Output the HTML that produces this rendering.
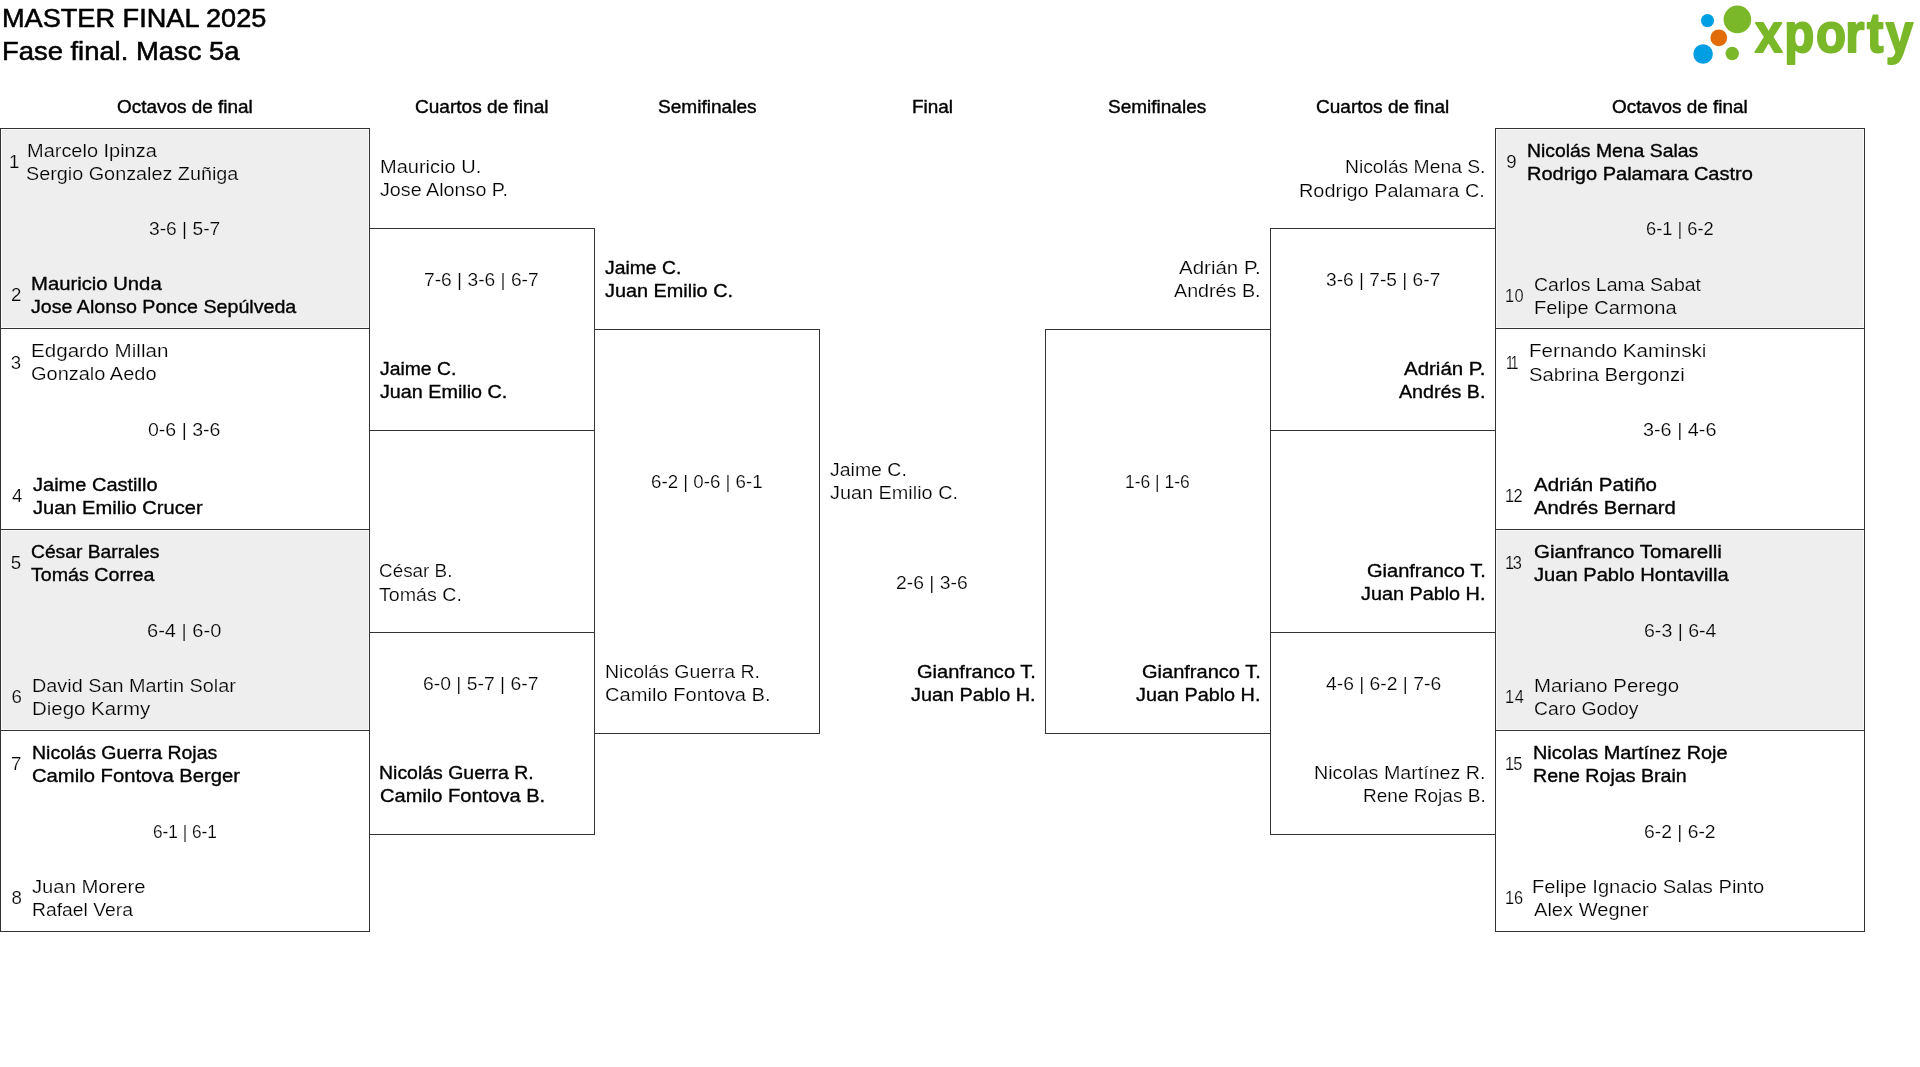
<!DOCTYPE html>
<html lang="es"><head><meta charset="utf-8"><title>MASTER FINAL 2025</title>
<style>
html,body{margin:0;padding:0;background:#fff}
body{width:1920px;height:1067px;position:relative;overflow:hidden;font-family:"Liberation Sans", sans-serif;color:#000}
#txt{position:absolute;left:0;top:0;width:1920px;height:1067px;will-change:transform}
.x{position:absolute;white-space:nowrap;transform-origin:0 0}
.b{position:absolute;border:1px solid #333;box-sizing:content-box}
.g{background:#eee;box-shadow:inset 0 0 0 1px #f9f9f9}
.t{font-size:26.67px;line-height:32px;-webkit-text-stroke:0.55px #000;}
.h{font-size:18.67px;line-height:23px;-webkit-text-stroke:0.4px #000;}
.r{font-size:18.67px;line-height:23px;-webkit-text-stroke:0.2px #fff;}
.m{font-size:18.67px;line-height:23px;-webkit-text-stroke:0.35px #000;}
.e{-webkit-text-stroke-color:#eee}
</style></head>
<body>

<div class="b g" style="left:0;top:128px;width:368px;height:199px"></div>
<div class="b" style="left:0;top:328px;width:368px;height:200px"></div>
<div class="b g" style="left:0;top:529px;width:368px;height:200px"></div>
<div class="b" style="left:0;top:730px;width:368px;height:200px"></div>
<div class="b" style="left:369px;top:228px;width:224px;height:201px"></div>
<div class="b" style="left:369px;top:632px;width:224px;height:201px"></div>
<div class="b" style="left:594px;top:329px;width:224px;height:403px"></div>
<div class="b" style="left:1045px;top:329px;width:224px;height:403px"></div>
<div class="b" style="left:1270px;top:228px;width:224px;height:201px"></div>
<div class="b" style="left:1270px;top:632px;width:224px;height:201px"></div>
<div class="b g" style="left:1495px;top:128px;width:368px;height:199px"></div>
<div class="b" style="left:1495px;top:328px;width:368px;height:200px"></div>
<div class="b g" style="left:1495px;top:529px;width:368px;height:200px"></div>
<div class="b" style="left:1495px;top:730px;width:368px;height:200px"></div>

<div id="txt">
<svg class="logo" style="position:absolute;left:1680px;top:0" width="240" height="80" viewBox="0 0 240 80">
<circle cx="27.5" cy="20.6" r="6.6" fill="#009fe3"/>
<circle cx="57.4" cy="19.4" r="13.8" fill="#7ab829"/>
<circle cx="38.8" cy="37.8" r="8.4" fill="#e36c0a"/>
<circle cx="23.1" cy="54" r="9.8" fill="#009fe3"/>
<circle cx="52.2" cy="53.5" r="6.7" fill="#7ab829"/>
<text transform="scale(0.8787,1)" x="85.4 118.54 154.8 188.09 212.77 234.24" y="52.1" font-family="Liberation Sans, sans-serif" font-weight="bold" font-size="56" fill="#7ab829" stroke="#7ab829" stroke-width="2" stroke-linejoin="round">xporty</text>
</svg>

<div class="x t" style="left:2.28px;top:1.65px;transform:scaleX(1.0178)">MASTER FINAL 2025</div>
<div class="x t" style="left:2.26px;top:34.65px;transform:scaleX(1.0271)">Fase final. Masc 5a</div>
<div class="x h" style="left:116.94px;top:95.20px;transform:scaleX(1.0147)">Octavos de final</div>
<div class="x h" style="left:415.23px;top:95.20px;transform:scaleX(1.0217)">Cuartos de final</div>
<div class="x h" style="left:657.87px;top:95.20px;transform:scaleX(1.0218)">Semifinales</div>
<div class="x h" style="left:912.39px;top:95.20px;transform:scaleX(1.0148)">Final</div>
<div class="x h" style="left:1107.57px;top:95.20px;transform:scaleX(1.0186)">Semifinales</div>
<div class="x h" style="left:1315.93px;top:95.20px;transform:scaleX(1.0194)">Cuartos de final</div>
<div class="x h" style="left:1611.64px;top:95.20px;transform:scaleX(1.0147)">Octavos de final</div>
<div class="x r e" style="left:8.94px;top:150.20px">1</div>
<div class="x r e" style="left:26.78px;top:138.80px;transform:scaleX(1.0699)">Marcelo Ipinza</div>
<div class="x r e" style="left:26.36px;top:162.00px;transform:scaleX(1.0611)">Sergio Gonzalez Zuñiga</div>
<div class="x r e" style="left:148.75px;top:217.00px;transform:scaleX(1.0302)">3-6 | 5-7</div>
<div class="x r e" style="left:10.96px;top:283.20px">2</div>
<div class="x m" style="left:31.12px;top:271.50px;transform:scaleX(1.0863)">Mauricio Unda</div>
<div class="x m" style="left:30.90px;top:294.50px;transform:scaleX(1.0525)">Jose Alonso Ponce Sepúlveda</div>
<div class="x r" style="left:10.77px;top:350.90px">3</div>
<div class="x r" style="left:30.72px;top:338.80px;transform:scaleX(1.1039)">Edgardo Millan</div>
<div class="x r" style="left:30.69px;top:362.00px;transform:scaleX(1.0706)">Gonzalo Aedo</div>
<div class="x r" style="left:148.38px;top:418.00px;transform:scaleX(1.0473)">0-6 | 3-6</div>
<div class="x r" style="left:12.11px;top:484.20px">4</div>
<div class="x m" style="left:32.89px;top:472.70px;transform:scaleX(1.0726)">Jaime Castillo</div>
<div class="x m" style="left:32.89px;top:496.00px;transform:scaleX(1.0760)">Juan Emilio Crucer</div>
<div class="x r e" style="left:10.81px;top:551.40px">5</div>
<div class="x m" style="left:31.44px;top:539.50px;transform:scaleX(1.0318)">César Barrales</div>
<div class="x m" style="left:31.29px;top:562.70px;transform:scaleX(1.0524)">Tomás Correa</div>
<div class="x r e" style="left:147.06px;top:618.80px;transform:scaleX(1.0758)">6-4 | 6-0</div>
<div class="x r e" style="left:11.46px;top:685.20px">6</div>
<div class="x r e" style="left:31.80px;top:673.70px;transform:scaleX(1.0628)">David San Martin Solar</div>
<div class="x r e" style="left:31.74px;top:697.00px;transform:scaleX(1.0963)">Diego Karmy</div>
<div class="x r" style="left:10.95px;top:752.40px">7</div>
<div class="x m" style="left:31.87px;top:741.00px;transform:scaleX(1.0447)">Nicolás Guerra Rojas</div>
<div class="x m" style="left:32.00px;top:764.00px;transform:scaleX(1.0843)">Camilo Fontova Berger</div>
<div class="x r" style="left:152.53px;top:820.20px;transform:scaleX(0.9238)">6-1 | 6-1</div>
<div class="x r" style="left:11.47px;top:886.40px">8</div>
<div class="x r" style="left:31.80px;top:875.20px;transform:scaleX(1.0847)">Juan Morere</div>
<div class="x r" style="left:31.84px;top:898.00px;transform:scaleX(1.0352)">Rafael Vera</div>
<div class="x r" style="left:380.48px;top:155.30px;transform:scaleX(1.0734)">Mauricio U.</div>
<div class="x r" style="left:379.82px;top:178.30px;transform:scaleX(1.0572)">Jose Alonso P.</div>
<div class="x r" style="left:424.43px;top:268.00px;transform:scaleX(1.0303)">7-6 | 3-6 | 6-7</div>
<div class="x m" style="left:380.20px;top:357.00px;transform:scaleX(1.0363)">Jaime C.</div>
<div class="x m" style="left:380.20px;top:380.30px;transform:scaleX(1.0582)">Juan Emilio C.</div>
<div class="x r" style="left:379.43px;top:559.30px;transform:scaleX(1.0120)">César B.</div>
<div class="x r" style="left:379.23px;top:582.70px;transform:scaleX(1.0527)">Tomás C.</div>
<div class="x r" style="left:423.11px;top:672.00px;transform:scaleX(1.0369)">6-0 | 5-7 | 6-7</div>
<div class="x m" style="left:379.48px;top:761.00px;transform:scaleX(1.0432)">Nicolás Guerra R.</div>
<div class="x m" style="left:379.71px;top:784.30px;transform:scaleX(1.0760)">Camilo Fontova B.</div>
<div class="x m" style="left:605.20px;top:256.00px;transform:scaleX(1.0363)">Jaime C.</div>
<div class="x m" style="left:605.20px;top:279.00px;transform:scaleX(1.0642)">Juan Emilio C.</div>
<div class="x r" style="left:651.14px;top:470.30px;transform:scaleX(1.0028)">6-2 | 0-6 | 6-1</div>
<div class="x r" style="left:604.52px;top:659.50px;transform:scaleX(1.0453)">Nicolás Guerra R.</div>
<div class="x r" style="left:605.06px;top:682.70px;transform:scaleX(1.0786)">Camilo Fontova B.</div>
<div class="x r" style="left:829.83px;top:458.00px;transform:scaleX(1.0439)">Jaime C.</div>
<div class="x r" style="left:829.82px;top:481.30px;transform:scaleX(1.0645)">Juan Emilio C.</div>
<div class="x r" style="left:896.15px;top:571.30px;transform:scaleX(1.0361)">2-6 | 3-6</div>
<div class="x m" style="left:917.04px;top:659.50px;transform:scaleX(1.0741)">Gianfranco T.</div>
<div class="x m" style="left:911.20px;top:682.70px;transform:scaleX(1.0624)">Juan Pablo H.</div>
<div class="x r" style="left:1179.33px;top:256.00px;transform:scaleX(1.0984)">Adrián P.</div>
<div class="x r" style="left:1174.35px;top:279.20px;transform:scaleX(1.0559)">Andrés B.</div>
<div class="x r" style="left:1124.77px;top:470.00px;transform:scaleX(0.9361)">1-6 | 1-6</div>
<div class="x m" style="left:1142.04px;top:659.60px;transform:scaleX(1.0732)">Gianfranco T.</div>
<div class="x m" style="left:1136.20px;top:682.70px;transform:scaleX(1.0615)">Juan Pablo H.</div>
<div class="x r" style="left:1344.54px;top:155.30px;transform:scaleX(1.0342)">Nicolás Mena S.</div>
<div class="x r" style="left:1299.49px;top:178.50px;transform:scaleX(1.0665)">Rodrigo Palamara C.</div>
<div class="x r" style="left:1325.75px;top:268.00px;transform:scaleX(1.0266)">3-6 | 7-5 | 6-7</div>
<div class="x m" style="left:1404.41px;top:357.00px;transform:scaleX(1.0967)">Adrián P.</div>
<div class="x m" style="left:1399.41px;top:380.30px;transform:scaleX(1.0544)">Andrés B.</div>
<div class="x m" style="left:1367.04px;top:558.70px;transform:scaleX(1.0732)">Gianfranco T.</div>
<div class="x m" style="left:1361.20px;top:582.00px;transform:scaleX(1.0615)">Juan Pablo H.</div>
<div class="x r" style="left:1325.65px;top:672.00px;transform:scaleX(1.0343)">4-6 | 6-2 | 7-6</div>
<div class="x r" style="left:1313.81px;top:761.30px;transform:scaleX(1.0533)">Nicolas Martínez R.</div>
<div class="x r" style="left:1362.57px;top:784.30px;transform:scaleX(1.0202)">Rene Rojas B.</div>
<div class="x r e" style="left:1506.15px;top:150.40px">9</div>
<div class="x m" style="left:1527.48px;top:139.30px;transform:scaleX(1.0383)">Nicolás Mena Salas</div>
<div class="x m" style="left:1527.44px;top:162.00px;transform:scaleX(1.0729)">Rodrigo Palamara Castro</div>
<div class="x r e" style="left:1646.07px;top:217.00px;transform:scaleX(0.9798)">6-1 | 6-2</div>
<div class="x r e" style="left:1505.31px;top:283.70px;letter-spacing:0.33px;transform:scaleX(0.88)">10</div>
<div class="x r e" style="left:1534.00px;top:272.70px;transform:scaleX(1.0459)">Carlos Lama Sabat</div>
<div class="x r e" style="left:1534.07px;top:295.50px;transform:scaleX(1.0749)">Felipe Carmona</div>
<div class="x r" style="left:1505.53px;top:350.90px;letter-spacing:-2.43px;transform:scaleX(0.74)">11</div>
<div class="x r" style="left:1528.62px;top:339.30px;transform:scaleX(1.1036)">Fernando Kaminski</div>
<div class="x r" style="left:1528.62px;top:362.50px;transform:scaleX(1.0878)">Sabrina Bergonzi</div>
<div class="x r" style="left:1643.01px;top:418.00px;transform:scaleX(1.0616)">3-6 | 4-6</div>
<div class="x r" style="left:1505.31px;top:484.20px;letter-spacing:-0.75px;transform:scaleX(0.88)">12</div>
<div class="x m" style="left:1534.01px;top:472.70px;transform:scaleX(1.0975)">Adrián Patiño</div>
<div class="x m" style="left:1534.01px;top:496.00px;transform:scaleX(1.0853)">Andrés Bernard</div>
<div class="x r e" style="left:1505.31px;top:551.40px;letter-spacing:-1.48px;transform:scaleX(0.88)">13</div>
<div class="x m" style="left:1533.82px;top:539.80px;transform:scaleX(1.1000)">Gianfranco Tomarelli</div>
<div class="x m" style="left:1534.09px;top:562.70px;transform:scaleX(1.0788)">Juan Pablo Hontavilla</div>
<div class="x r e" style="left:1643.70px;top:619.00px;transform:scaleX(1.0481)">6-3 | 6-4</div>
<div class="x r e" style="left:1505.31px;top:685.20px;letter-spacing:0.66px;transform:scaleX(0.88)">14</div>
<div class="x r e" style="left:1533.85px;top:673.50px;transform:scaleX(1.0927)">Mariano Perego</div>
<div class="x r e" style="left:1534.20px;top:696.60px;transform:scaleX(1.0394)">Caro Godoy</div>
<div class="x r" style="left:1505.31px;top:752.40px;letter-spacing:-0.92px;transform:scaleX(0.88)">15</div>
<div class="x m" style="left:1533.05px;top:741.00px;transform:scaleX(1.0661)">Nicolas Martínez Roje</div>
<div class="x m" style="left:1533.07px;top:763.80px;transform:scaleX(1.0510)">Rene Rojas Brain</div>
<div class="x r" style="left:1643.71px;top:819.80px;transform:scaleX(1.0352)">6-2 | 6-2</div>
<div class="x r" style="left:1505.31px;top:886.20px;letter-spacing:-0.09px;transform:scaleX(0.88)">16</div>
<div class="x r" style="left:1532.37px;top:874.80px;transform:scaleX(1.0768)">Felipe Ignacio Salas Pinto</div>
<div class="x r" style="left:1534.34px;top:897.80px;transform:scaleX(1.0768)">Alex Wegner</div>
</div>
</body></html>
